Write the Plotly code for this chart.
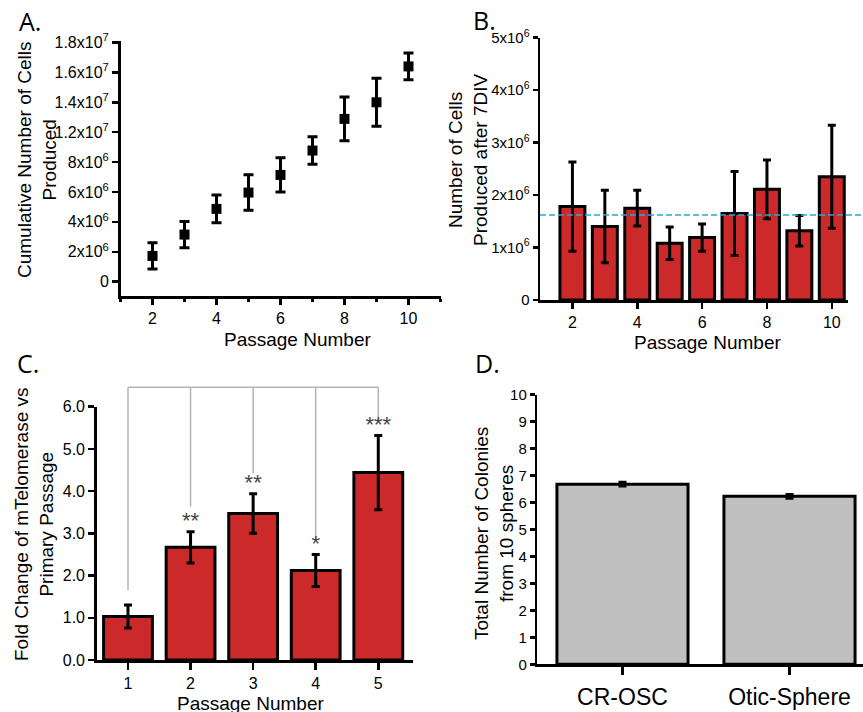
import plotly.graph_objects as go

W, H = 863, 712

# ---------------- Data ----------------
# Panel A (positions on the printed axis; labels as printed in the figure)
a_passage = [2, 3, 4, 5, 6, 7, 8, 9, 10]
a_cum_cells = [1.72e6, 3.15e6, 4.87e6, 5.96e6, 7.14e6, 8.77e6, 10.89e6, 12.0e6, 14.4e6]
a_cum_err = [0.88e6, 0.88e6, 0.93e6, 1.19e6, 1.15e6, 0.92e6, 1.46e6, 1.6e6, 0.89e6]
a_tickvals = [0, 2e6, 4e6, 6e6, 8e6, 10e6, 12e6, 14e6, 16e6]
a_ticktext = ["0", "2x10<sup>6</sup>", "4x10<sup>6</sup>", "6x10<sup>6</sup>", "8x10<sup>6</sup>",
              "1.2x10<sup>7</sup>", "1.4x10<sup>7</sup>", "1.6x10<sup>7</sup>", "1.8x10<sup>7</sup>"]

# Panel B
b_passage = [2, 3, 4, 5, 6, 7, 8, 9, 10]
b_cells = [1.78e6, 1.40e6, 1.75e6, 1.08e6, 1.19e6, 1.65e6, 2.11e6, 1.32e6, 2.35e6]
b_err = [0.85e6, 0.69e6, 0.34e6, 0.31e6, 0.26e6, 0.80e6, 0.56e6, 0.29e6, 0.98e6]
b_mean_line = 1.62e6
b_tickvals = [0, 1e6, 2e6, 3e6, 4e6, 5e6]
b_ticktext = ["0", "1x10<sup>6</sup>", "2x10<sup>6</sup>", "3x10<sup>6</sup>", "4x10<sup>6</sup>", "5x10<sup>6</sup>"]

# Panel C
c_passage = [1, 2, 3, 4, 5]
c_fold = [1.03, 2.67, 3.47, 2.12, 4.44]
c_err = [0.27, 0.37, 0.47, 0.38, 0.88]
c_stars = ["", "**", "**", "*", "***"]
c_bracket_top = 6.46
c_drop_end = [1.66, 3.63, 4.42, 2.84, 5.65]

# Panel D
d_groups = ["CR-OSC", "Otic-Sphere"]
d_colonies = [6.68, 6.23]
d_err = [0.07, 0.07]

# ---------------- Style ----------------
RED = "#cc2a2a"
GREY = "#c0c0c0"
BLUE = "#2aa6df"
FONT = "Liberation Sans, Arial, sans-serif"
LETTER_FONT = "Open Sans, Liberation Sans, sans-serif"


def px_x(p):
    return p / W


def px_y(p):
    return 1 - p / H


fig = go.Figure()

# Panel A
fig.add_trace(go.Scatter(
    x=a_passage, y=a_cum_cells, mode="markers",
    marker=dict(symbol="square", size=10, color="black"),
    error_y=dict(type="data", array=a_cum_err, color="black", thickness=3, width=5),
    xaxis="x", yaxis="y", showlegend=False, cliponaxis=False))

# Panel B
fig.add_trace(go.Bar(
    x=b_passage, y=b_cells, width=0.77,
    marker=dict(color=RED, line=dict(color="black", width=3)),
    error_y=dict(type="data", array=b_err, color="black", thickness=3, width=4),
    xaxis="x2", yaxis="y2", showlegend=False))

# Panel C
fig.add_trace(go.Bar(
    x=c_passage, y=c_fold, width=0.78,
    marker=dict(color=RED, line=dict(color="black", width=3)),
    error_y=dict(type="data", array=c_err, color="black", thickness=3, width=4),
    xaxis="x3", yaxis="y3", showlegend=False))

# Panel D
fig.add_trace(go.Bar(
    x=d_groups, y=d_colonies, width=0.785,
    marker=dict(color=GREY, line=dict(color="black", width=3)),
    error_y=dict(type="data", array=d_err, color="black", thickness=3, width=4),
    xaxis="x4", yaxis="y4", showlegend=False))

# Panel C overlay: significance brackets and stars
bx, by = [], []
bx += [c_passage[0], c_passage[-1], None]
by += [c_bracket_top, c_bracket_top, None]
for xv, ye in zip(c_passage, c_drop_end):
    bx += [xv, xv, None]
    by += [c_bracket_top, ye, None]
fig.add_trace(go.Scatter(x=bx, y=by, mode="lines", line=dict(color="#b4b4b4", width=1.5),
                         xaxis="x5", yaxis="y5", showlegend=False, hoverinfo="skip"))
star_y = [f + e + 0.22 for f, e in zip(c_fold, c_err)]
fig.add_trace(go.Scatter(x=c_passage, y=star_y, mode="text", text=c_stars,
                         textposition="middle center",
                         textfont=dict(family=FONT, size=22, color="#444444"),
                         xaxis="x5", yaxis="y5", showlegend=False, hoverinfo="skip"))

axis_common = dict(showline=True, linecolor="black", linewidth=2.5, ticks="outside",
                   tickcolor="black", tickwidth=2.5, ticklen=6, showgrid=False, zeroline=False,
                   automargin=False,
                   tickfont=dict(family=FONT, size=16, color="black"))

# domains (pixels -> paper)
A_dom_x = [px_x(120.5), px_x(440.5)]
A_dom_y = [px_y(296), px_y(41)]
B_dom_x = [px_x(540), px_x(848)]
B_dom_y = [px_y(300), px_y(37.7)]
C_dom_x = [px_x(96.7), px_x(412.7)]
C_dom_y = [px_y(660), px_y(406.7)]
D_dom_x = [px_x(537.3), 1.0]
D_dom_y = [px_y(664.3), px_y(394.7)]

c_range = [0.5, 5.55]
c_yrange = [0, 6]
ov_top = 0.52
ov_range_top = c_yrange[1] * (ov_top - C_dom_y[0]) / (C_dom_y[1] - C_dom_y[0])

fig.update_layout(
    width=W, height=H,
    margin=dict(l=0, r=0, t=0, b=0, autoexpand=False),
    paper_bgcolor="white", plot_bgcolor="rgba(0,0,0,0)",
    font=dict(family=FONT, color="black"),
    hovermode=False,
    xaxis=dict(axis_common, domain=A_dom_x, range=[1, 11], tickmode="linear", tick0=0, dtick=2,
               anchor="y",
               minor=dict(ticks="outside", ticklen=3, tickwidth=2.5, tickcolor="black", dtick=1, tick0=1)),
    yaxis=dict(axis_common, domain=A_dom_y, range=[-0.96e6, 16.1e6], tickmode="array",
               tickvals=a_tickvals, ticktext=a_ticktext, anchor="x"),
    xaxis2=dict(axis_common, domain=B_dom_x, range=[1, 10.5], tickmode="array",
                tickvals=[2, 4, 6, 8, 10], anchor="y2"),
    yaxis2=dict(axis_common, domain=B_dom_y, range=[0, 5e6], tickmode="array",
                tickvals=b_tickvals, ticktext=b_ticktext, anchor="x2", ticklen=5,
                tickfont=dict(family=FONT, size=15, color="black")),
    xaxis3=dict(axis_common, domain=C_dom_x, range=c_range, tickmode="linear", tick0=1, dtick=1,
                anchor="y3", ticklen=7),
    yaxis3=dict(axis_common, domain=C_dom_y, range=c_yrange, tickmode="linear", tick0=0, dtick=1,
                tickformat=".1f", anchor="x3"),
    xaxis4=dict(axis_common, domain=D_dom_x, range=[-0.51, 1.44], anchor="y4", ticklen=8,
                ticklabelstandoff=3, tickfont=dict(family=FONT, size=23, color="black")),
    yaxis4=dict(axis_common, domain=D_dom_y, range=[0, 10], tickmode="linear", tick0=0, dtick=1,
                anchor="x4", ticklen=5, tickfont=dict(family=FONT, size=15, color="black")),
    xaxis5=dict(domain=C_dom_x, range=c_range, visible=False, anchor="y5"),
    yaxis5=dict(domain=[C_dom_y[0], ov_top], range=[0, ov_range_top], visible=False, anchor="x5"),
    bargap=0,
)

ann = []


def text_ann(text, xp, yp, size=19, angle=0, family=FONT):
    ann.append(dict(text=text, x=px_x(xp), y=px_y(yp), xref="paper", yref="paper",
                    showarrow=False, textangle=angle, xanchor="center", yanchor="middle",
                    font=dict(family=family, size=size, color="black")))


# panel letters
text_ann("A.", 30, 21, size=25, family=LETTER_FONT)
text_ann("B.", 484, 20, size=25, family=LETTER_FONT)
text_ann("C.", 28, 363, size=25, family=LETTER_FONT)
text_ann("D.", 487, 363, size=25, family=LETTER_FONT)

# axis titles
text_ann("Cumulative Number of Cells<br>Produced", 37, 160, angle=-90)
text_ann("Passage Number", 297, 340)
text_ann("Number of Cells<br>Produced after 7DIV", 468, 160, angle=-90)
text_ann("Passage Number", 707, 343)
text_ann("Fold Change of mTelomerase vs<br>Primary Passage", 34, 524, angle=-90)
text_ann("Passage Number", 250, 703)
text_ann("Total Number of Colonies<br>from 10 spheres", 494, 533, angle=-90)

fig.update_layout(annotations=ann)

# reference (mean) dashed line in panel B
fig.add_shape(type="line", xref="paper", yref="y2", x0=B_dom_x[0], x1=1.0,
              y0=b_mean_line, y1=b_mean_line, line=dict(color=BLUE, width=1.6, dash="6px,3px"),
              layer="above")

# place the figure at the page's top-left corner (no default body margin), no modebar
fig.write_html("out.html", config={"displayModeBar": False, "staticPlot": True},
               post_script="document.body.style.margin='0px';")
